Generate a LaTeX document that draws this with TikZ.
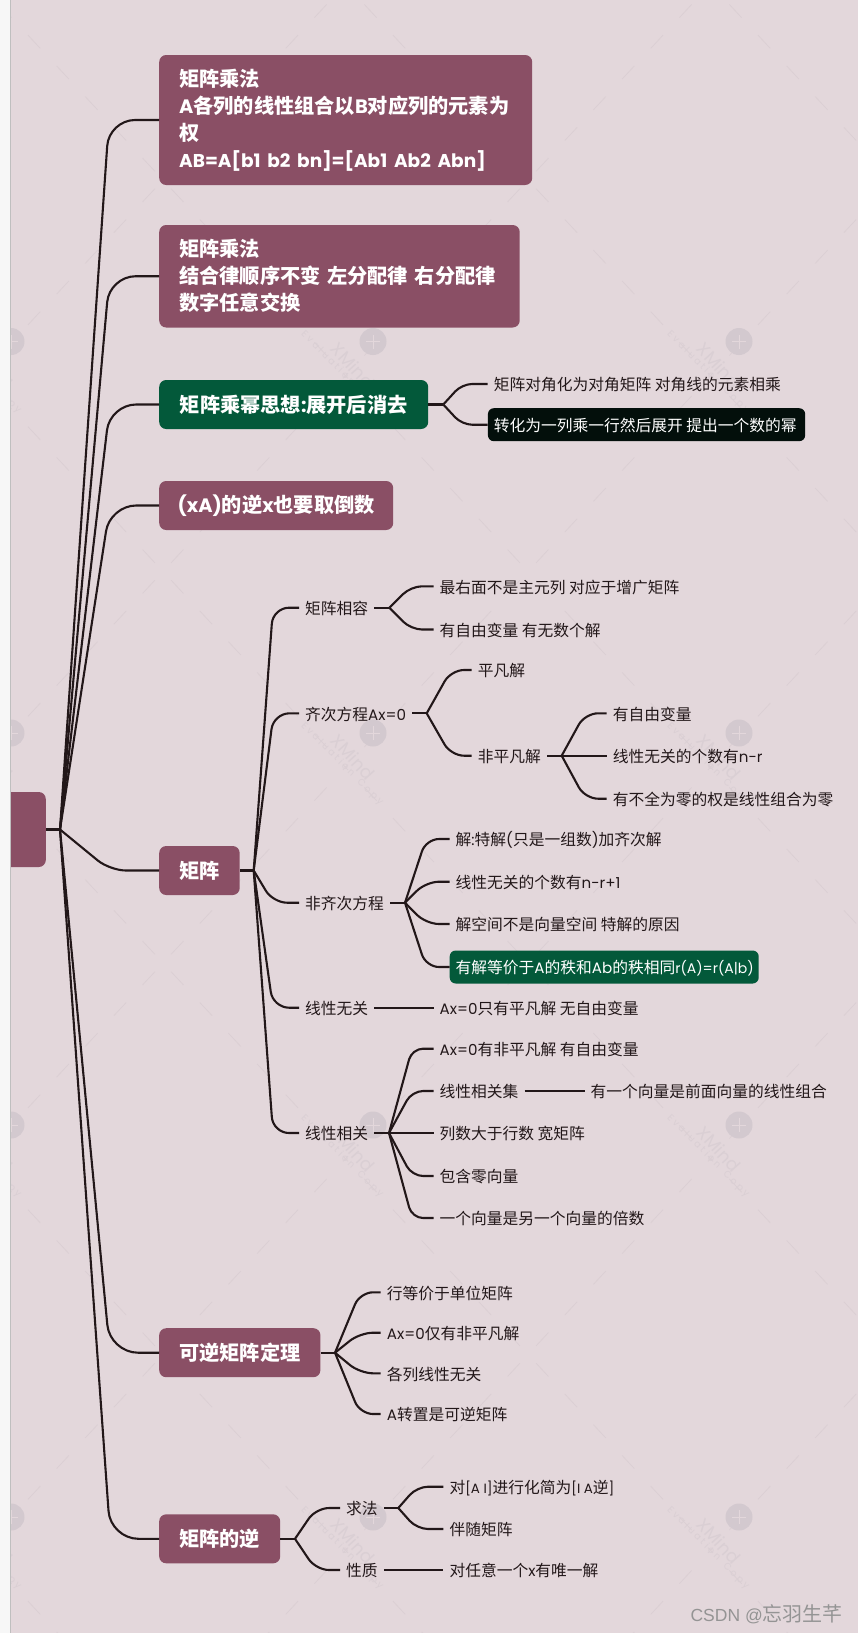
\documentclass[tikz,border=0pt]{standalone}
\usepackage{fontspec}
\setmainfont{Noto Sans CJK SC}
\newfontfamily\latfont[Scale=0.96]{Poppins}
\newfontfamily\csdnfont{Liberation Sans}
\newcommand{\lat}[1]{{\latfont #1}}
\definecolor{paper}{HTML}{E3D7DB}
\definecolor{plum}{HTML}{8A4F65}
\definecolor{pine}{HTML}{03593A}
\definecolor{ink}{HTML}{221719}
\definecolor{nearblack}{HTML}{030F0B}
\definecolor{markgray}{HTML}{D3C9CF}
\definecolor{marktext}{HTML}{DACFD4}
\definecolor{markline}{HTML}{DBCFD4}
\tikzset{
	mainbox/.style={anchor=west,fill=plum,text=white,rounded corners=7pt,inner xsep=20pt,inner ysep=0pt,minimum height=49pt,
		font=\fontsize{20.2}{27}\selectfont\bfseries},
	leaf/.style={anchor=west,inner xsep=6pt,inner ysep=0pt,text=ink,text height=14.6pt,text depth=1.2pt,
		font=\fontsize{15.75}{18}\selectfont},
	leafbox/.style={leaf,text=white,rounded corners=6pt,minimum height=33pt},
	wire/.style={draw=ink,line width=2.1pt,line join=round,rounded corners=#1},
	wire/.default=13pt
}
\begin{document}
\begin{tikzpicture}[x=1pt,y=-1pt]
	\useasboundingbox (0,0) rectangle (858,1633);
	\fill[paper] (0,0) rectangle (858,1633);
	% watermark
	\foreach \i in {-1,0,1,2}
	\foreach \j in {-1,0,1,2,3,4}{
		\coordinate (a) at ({163+365*\i},{180+391.5*\j});
		\foreach \dx/\dy in {182.5/195.75,182.5/-195.75,-182.5/195.75,-182.5/-195.75}
		\draw[markline,line width=.8pt,dash pattern=on 18pt off 24pt,dash phase=-12pt] (a)--+(\dx,\dy);
	}
	\foreach \mx in {11,373,739}
	\foreach \my in {341.5,733,1125,1517}{
		\fill[markgray] (\mx,\my) circle (13.5);
		\draw[paper,line width=.7pt] (\mx-7,\my)--(\mx+7,\my) (\mx,\my-7)--(\mx,\my+7);
		\node[marktext,rotate=-48,font=\fontsize{18.5}{18}\selectfont\latfont] at (\mx-20,\my+24) {XMind};
		\node[marktext,rotate=-45,font=\fontsize{9.8}{9}\selectfont\latfont] at (\mx-31,\my+31) {E v a l u a t i o n~~~C o p y};
	}
	% left edge
	\node[fill=plum,rounded corners=7pt,minimum width=70pt,minimum height=75pt,anchor=east] (root) at (46,829.5) {};
	\fill[white!97!black] (0,0) rectangle (10.7,1633);
	\draw[black!25,line width=.7pt] (10.7,0)--(10.7,1633);
	\coordinate (jroot) at (60,829.5);
	% boxes
	\node[mainbox,text width=333pt,align=left,minimum height=130pt] (mul1) at (159,120) {矩阵乘法\\\lat{A}各列的线性组合以\lat{B}对应列的元素为\\权\\{\fontsize{19.3}{27}\selectfont\lat{AB=A[b1 b2 bn]=[Ab1 Ab2 Abn]}}};
	\node[mainbox,text width=320.5pt,align=left,minimum height=102.5pt] (mul2) at (159,276.25) {矩阵乘法\\结合律顺序不变 左分配律 右分配律\\数字任意交换};
	\node[mainbox,fill=pine,minimum width=269pt] (pow) at (159,404.5) {矩阵乘幂思想\lat{:}展开后消去};
	\node[mainbox,inner xsep=18pt,minimum width=234pt] (xinv) at (159,505.5) {\lat{(xA)}的逆\lat{x}也要取倒数};
	\node[mainbox,minimum width=80.5pt] (mat) at (159,870.5) {矩阵};
	\node[mainbox,minimum width=161pt] (rev) at (159,1352.7) {可逆矩阵定理};
	\node[mainbox,minimum width=121pt] (minv) at (159,1538.8) {矩阵的逆};
	% pow
	\node[leaf] (pow1) at (487.7,384) {矩阵对角化为对角矩阵 对角线的元素相乘};
	\node[leafbox,fill=nearblack] (pow2) at (487.7,424.7) {\makebox[305.3pt][l]{转化为一列乘一行然后展开 提出一个数的幂}};
	\coordinate (jpow) at (443.3,404.5);
	% mat
	\coordinate (jmat) at (253.7,870.5);
	\node[leaf] (con) at (299,607.7) {矩阵相容};
	\coordinate (jcon) at (389.3,607.7);
	\node[leaf] (con1) at (433.5,586.3) {最右面不是主元列 对应于增广矩阵};
	\node[leaf] (con2) at (433.5,629.5) {有自由变量 有无数个解};
	\node[leaf] (hom) at (299,713.3) {齐次方程\lat{Ax=0}};
	\coordinate (jhom) at (426.7,713.3);
	\node[leaf] (hom1) at (471.7,670) {平凡解};
	\node[leaf] (hom2) at (471.7,755.7) {非平凡解};
	\coordinate (jnon) at (561.7,755.7);
	\node[leaf] (non1) at (606.7,713.3) {有自由变量};
	\node[leaf] (non2) at (606.7,755.7) {线性无关的个数有\lat{n-r}};
	\node[leaf] (non3) at (606.7,798.7) {有不全为零的权是线性组合为零};
	\node[leaf] (inh) at (299,902.7) {非齐次方程};
	\coordinate (jinh) at (405,902.7);
	\node[leaf] (inh1) at (449.5,839) {解\lat{:}特解\lat{(}只是一组数\lat{)}加齐次解};
	\node[leaf] (inh2) at (449.5,881.7) {线性无关的个数有\lat{n-r+1}};
	\node[leaf] (inh3) at (449.5,924) {解空间不是向量空间 特解的原因};
	\node[leafbox,fill=pine] (inh4) at (449.5,967) {\makebox[297pt][l]{有解等价于\lat{A}的秩和\lat{Ab}的秩相同{\fontsize{14.6}{18}\selectfont\lat{r(A)=r(A|b)}}}};
	\node[leaf] (ind) at (299,1007.7) {线性无关};
	\node[leaf] (ind1) at (433.5,1007.7) {\lat{Ax=0}只有平凡解 无自由变量};
	\node[leaf] (dep) at (299,1133) {线性相关};
	\coordinate (jdep) at (389,1133);
	\node[leaf] (dep1) at (433.5,1048.7) {\lat{Ax=0}有非平凡解 有自由变量};
	\node[leaf] (dep2) at (433.5,1091) {线性相关集};
	\node[leaf] (dep2a) at (584.5,1091) {有一个向量是前面向量的线性组合};
	\node[leaf] (dep3) at (433.5,1133) {列数大于行数 宽矩阵};
	\node[leaf] (dep4) at (433.5,1176) {包含零向量};
	\node[leaf] (dep5) at (433.5,1218) {一个向量是另一个向量的倍数};
	% rev
	\coordinate (jrev) at (335,1352.7);
	\node[leaf] (rev1) at (380.7,1292.3) {行等价于单位矩阵};
	\node[leaf] (rev2) at (380.7,1332.7) {\lat{Ax=0}仅有非平凡解};
	\node[leaf] (rev3) at (380.7,1373.3) {各列线性无关};
	\node[leaf] (rev4) at (380.7,1414) {\lat{A}转置是可逆矩阵};
	% minv
	\coordinate (jminv) at (295,1538.8);
	\node[leaf] (how) at (340,1508) {求法};
	\coordinate (jhow) at (398.3,1508);
	\node[leaf] (how1) at (443.3,1486.7) {对{\fontsize{14}{18}\selectfont\lat{[A I]}}进行化简为{\fontsize{14}{18}\selectfont\lat{[I A}}逆{\fontsize{14}{18}\selectfont\lat{]}}};
	\node[leaf] (how2) at (443.3,1529) {伴随矩阵};
	\node[leaf] (pro) at (340,1570) {性质};
	\node[leaf] (pro1) at (443.3,1570) {对任意一个\lat{x}有唯一解};
	% root connectors
	\draw[wire] (root.east)--(jroot);
	\draw[wire=26pt] (jroot)--(109,120)--(mul1.west);
	\draw[wire=26pt] (jroot)--(109.5,276.25)--(mul2.west);
	\draw[wire=26pt] (jroot)--(110,404.5)--(pow.west);
	\draw[wire=26pt] (jroot)--(110,505.5)--(xinv.west);
	\draw[wire=16pt] (jroot)--(110,870.5)--(mat.west);
	\draw[wire=28pt] (jroot)--(110,1352.7)--(rev.west);
	\draw[wire=28pt] (jroot)--(110.5,1538.8)--(minv.west);
	% pow connectors
	\draw[wire] (pow.east)--(jpow);
	\draw[wire=10pt] (jpow)--(462,384)--(pow1.west);
	\draw[wire=10pt] (jpow)--(462,424.7)--(pow2.west);
	% mat connectors
	\draw[wire] (mat.east)--(jmat);
	\draw[wire=16pt] (jmat)--(273,607.7)--(con.west);
	\draw[wire=16pt] (jmat)--(273.5,713.3)--(hom.west);
	\draw[wire=14pt] (jmat)--(273,902.7)--(inh.west);
	\draw[wire=16pt] (jmat)--(273,1007.7)--(ind.west);
	\draw[wire=16pt] (jmat)--(273,1133)--(dep.west);
	\draw[wire] (con.east)--(jcon);
	\draw[wire=11pt] (jcon)--(411,586.3)--(con1.west);
	\draw[wire=11pt] (jcon)--(411,629.5)--(con2.west);
	\draw[wire] (hom.east)--(jhom);
	\draw[wire] (jhom)--(451,670)--(hom1.west);
	\draw[wire] (jhom)--(451,755.7)--(hom2.west);
	\draw[wire] (hom2.east)--(jnon);
	\draw[wire] (jnon)--(585,713.3)--(non1.west);
	\draw[wire] (jnon)--(non2.west);
	\draw[wire] (jnon)--(585,798.7)--(non3.west);
	\draw[wire] (inh.east)--(jinh);
	\draw[wire] (jinh)--(426,839)--(inh1.west);
	\draw[wire] (jinh)--(426,881.7)--(inh2.west);
	\draw[wire] (jinh)--(426,924)--(inh3.west);
	\draw[wire] (jinh)--(426,967)--(inh4.west);
	\draw[wire] (ind.east)--(ind1.west);
	\draw[wire] (dep.east)--(jdep);
	\draw[wire=11pt] (jdep)--(412,1048.7)--(dep1.west);
	\draw[wire=11pt] (jdep)--(412,1091)--(dep2.west);
	\draw[wire] (jdep)--(dep3.west);
	\draw[wire=11pt] (jdep)--(412,1176)--(dep4.west);
	\draw[wire=11pt] (jdep)--(412,1218)--(dep5.west);
	\draw[wire] (dep2.east)--(dep2a.west);
	% rev connectors
	\draw[wire] (rev.east)--(jrev);
	\draw[wire] (jrev)--(360,1292.3)--(rev1.west);
	\draw[wire] (jrev)--(360,1332.7)--(rev2.west);
	\draw[wire] (jrev)--(360,1373.3)--(rev3.west);
	\draw[wire] (jrev)--(360,1414)--(rev4.west);
	% minv connectors
	\draw[wire] (minv.east)--(jminv);
	\draw[wire] (jminv)--(316,1508)--(how.west);
	\draw[wire] (jminv)--(316,1570)--(pro.west);
	\draw[wire] (how.east)--(jhow);
	\draw[wire=11pt] (jhow)--(417,1486.7)--(how1.west);
	\draw[wire=11pt] (jhow)--(417,1529)--(how2.west);
	\draw[wire] (pro.east)--(pro1.west);
	% csdn
	\node[anchor=east,text=black!42,inner sep=0pt,font=\fontsize{20}{20}\selectfont] (csdn) at (843,1614) {{\csdnfont\fontsize{17.5}{20}\selectfont CSDN @}忘羽生芊};
\end{tikzpicture}
\end{document}
